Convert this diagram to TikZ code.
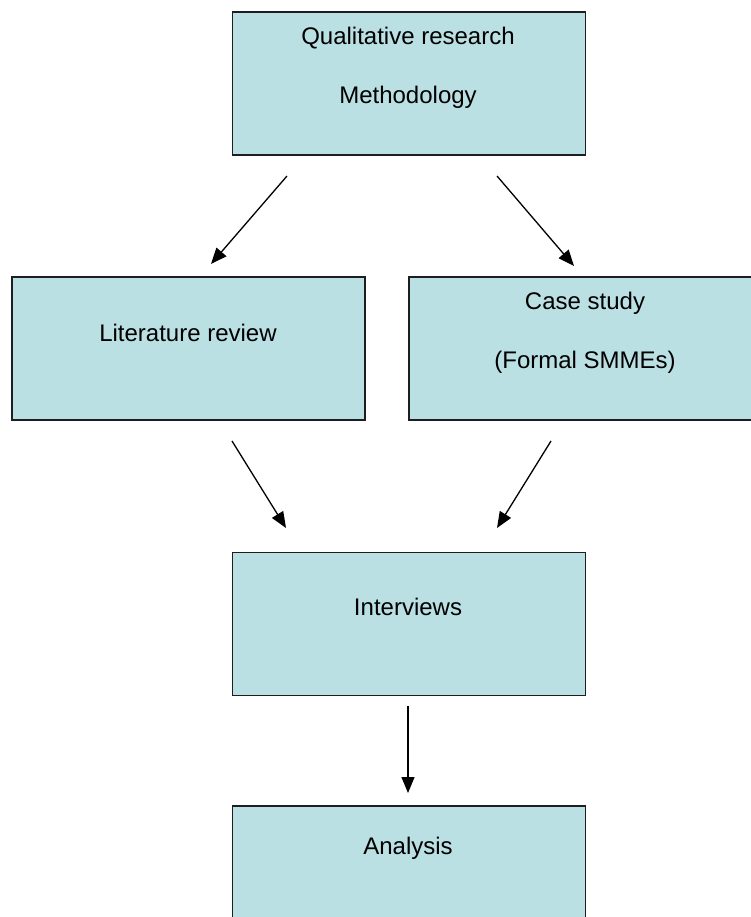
\documentclass[tikz,border=0pt]{standalone}
\usepackage{fontspec}
\setmainfont{Liberation Sans}
\usetikzlibrary{arrows.meta}
\definecolor{boxfill}{RGB}{186,224,227}
\definecolor{boxline}{RGB}{30,30,30}
\begin{document}
\begin{tikzpicture}[x=1pt,y=-1pt,
  stagebox/.style={draw=boxline,fill=boxfill,line width=1.5pt,rectangle,
    anchor=north west,inner sep=0pt,minimum width=353pt,minimum height=143pt},
  label text/.style={font=\fontsize{24}{28}\selectfont,inner sep=0pt,anchor=center},
  flow/.style={line width=1.3pt,-{Triangle[length=16pt,width=13pt]}}]
\useasboundingbox (0,0) rectangle (751,917);
\clip (0,0) rectangle (751,917);

% boxes
\node[stagebox] (method) at (231.5,11.5) {};
\node[stagebox] (lit)    at (11,276) {};
\node[stagebox] (case)   at (408,276) {};
\node[stagebox] (inter)  at (231.5,551.5) {};
\node[stagebox] (anal)   at (231.5,805) {};

% box texts
\node[label text] (t1a) at (408,38)  {Qualitative research};
\node[label text] (t1b) at (408,97)  {Methodology};
\node[label text] (t2)  at (188,333) {Literature review};
\node[label text] (t3a) at (585,303) {Case study};
\node[label text] (t3b) at (585,362) {(Formal SMMEs)};
\node[label text] (t4)  at (408,607) {Interviews};
\node[label text] (t5)  at (408,848) {Analysis};

% connector end points
\coordinate (m1) at (287,176);
\coordinate (l1) at (211,264);
\coordinate (m2) at (497,176);
\coordinate (c1) at (574,266);
\coordinate (l2) at (232,441);
\coordinate (i1) at (286,528);
\coordinate (c2) at (551,441);
\coordinate (i2) at (497,528);
\coordinate (i3) at (408,706);
\coordinate (a1) at (408,793);

% connectors
\draw[flow] (m1) -- (l1);
\draw[flow] (m2) -- (c1);
\draw[flow] (l2) -- (i1);
\draw[flow] (c2) -- (i2);
\draw[flow] (i3) -- (a1);
\end{tikzpicture}
\end{document}
